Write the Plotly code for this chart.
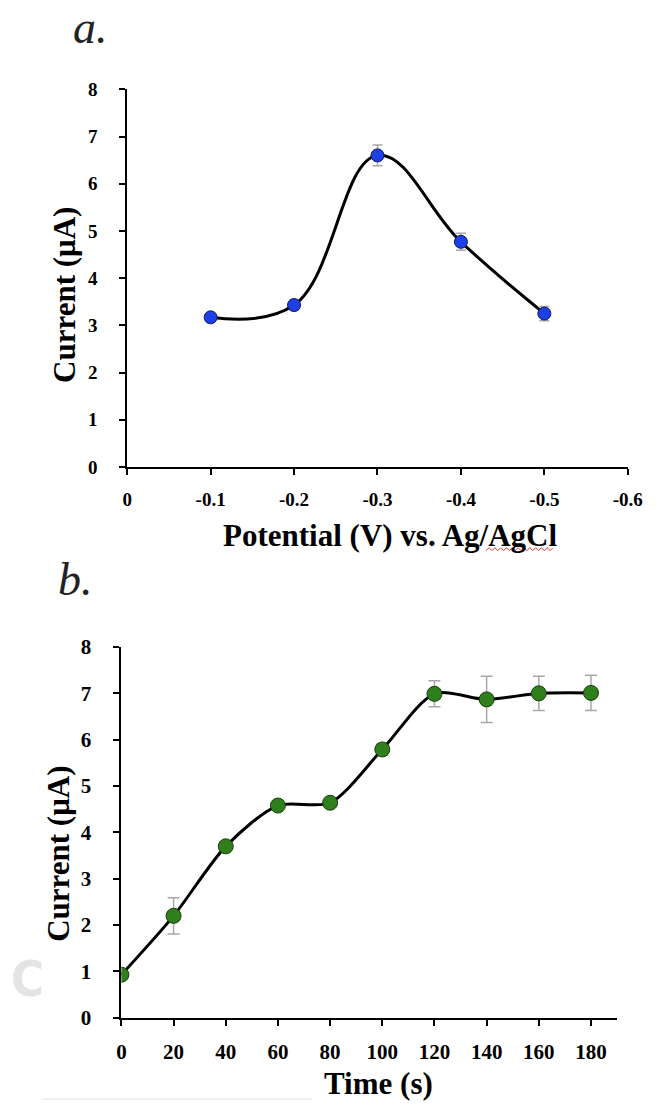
import plotly.graph_objects as go

W, H = 667, 1113

# ---------------- Panel a data ----------------
potential_v = [-0.1, -0.2, -0.3, -0.4, -0.5]
current_a = [3.17, 3.43, 6.60, 4.77, 3.25]
error_a = [0.08, 0.10, 0.22, 0.18, 0.15]
xtick_vals_a = [0, -0.1, -0.2, -0.3, -0.4, -0.5, -0.6]
xtick_text_a = ["0", "-0.1", "-0.2", "-0.3", "-0.4", "-0.5", "-0.6"]

# ---------------- Panel b data ----------------
time_s = [0, 20, 40, 60, 80, 100, 120, 140, 160, 180]
current_b = [0.93, 2.20, 3.70, 4.58, 4.64, 5.79, 6.99, 6.87, 7.00, 7.01]
error_b = [0.05, 0.39, 0.08, 0.06, 0.06, 0.12, 0.28, 0.50, 0.37, 0.38]
xtick_vals_b = [0, 20, 40, 60, 80, 100, 120, 140, 160, 180]

ytick_vals = [0, 1, 2, 3, 4, 5, 6, 7, 8]

SERIF = "Liberation Serif, Times New Roman, serif"


def px_x(p):
    return p / W


def px_y(p):
    return 1 - p / H


fig = go.Figure()

fig.add_trace(go.Scatter(
    x=potential_v, y=current_a, mode="lines+markers",
    line=dict(color="black", width=3, shape="spline", smoothing=1.15),
    marker=dict(size=13, color="#1d3fe6", line=dict(color="#0d1a60", width=1)),
    error_y=dict(type="data", array=error_a, color="#a8a8a8", thickness=1.5, width=5),
    xaxis="x", yaxis="y", showlegend=False,
))

fig.add_trace(go.Scatter(
    x=time_s, y=current_b, mode="lines+markers",
    line=dict(color="black", width=3, shape="spline", smoothing=0.8),
    marker=dict(size=15, color="#2f7f1c", line=dict(color="#173d0b", width=1)),
    error_y=dict(type="data", array=error_b, color="#a8a8a8", thickness=1.5, width=6),
    xaxis="x2", yaxis="y2", showlegend=False,
))

axis_common = dict(
    showgrid=False, zeroline=False, showline=True, linecolor="black", linewidth=2,
    ticks="outside", ticklen=6, tickwidth=2, tickcolor="black",
)

fig.update_layout(
    width=W, height=H,
    margin=dict(l=0, r=0, t=0, b=0),
    paper_bgcolor="white", plot_bgcolor="white",
    xaxis=dict(
        domain=[px_x(126), px_x(642)], range=[0, -0.6], anchor="y",
        tickvals=xtick_vals_a, ticktext=xtick_text_a,
        tickfont=dict(family=SERIF, size=19, color="black", weight="bold"),
        ticklabelstandoff=8, **axis_common,
    ),
    yaxis=dict(
        domain=[px_y(465), px_y(79)], range=[0, 8], anchor="x",
        tickvals=ytick_vals,
        tickfont=dict(family=SERIF, size=19, color="black", weight="bold"),
        ticklabelstandoff=18, **axis_common,
    ),
    xaxis2=dict(
        domain=[px_x(120), px_x(631)], range=[0, 190], anchor="y2",
        tickvals=xtick_vals_b,
        tickfont=dict(family=SERIF, size=21, color="black", weight="bold"),
        ticklabelstandoff=8, **axis_common,
    ),
    yaxis2=dict(
        domain=[px_y(1028), px_y(649)], range=[0, 8], anchor="x2",
        tickvals=ytick_vals,
        tickfont=dict(family=SERIF, size=21, color="black", weight="bold"),
        ticklabelstandoff=18, **axis_common,
    ),
)

annotations = [
    dict(text="a.", x=px_x(68), y=px_y(44), xanchor="left", yanchor="bottom",
         font=dict(family=SERIF, size=46, color="#222", style="italic")),
    dict(text="b.", x=px_x(53), y=px_y(608), xanchor="left", yanchor="bottom",
         font=dict(family=SERIF, size=46, color="#222", style="italic")),
    dict(text="Potential (V) vs. Ag/AgCl", x=px_x(397), y=px_y(535),
         xanchor="center", yanchor="middle",
         font=dict(family=SERIF, size=31, color="black", weight="bold")),
    dict(text="Current (μA)", x=px_x(62), y=px_y(289), textangle=-90,
         xanchor="center", yanchor="middle",
         font=dict(family=SERIF, size=31, color="black", weight="bold")),
    dict(text="Time (s)", x=px_x(385), y=px_y(1095),
         xanchor="center", yanchor="middle",
         font=dict(family=SERIF, size=31, color="black", weight="bold")),
    dict(text="Current (μA)", x=px_x(55), y=px_y(860), textangle=-90,
         xanchor="center", yanchor="middle",
         font=dict(family=SERIF, size=31, color="black", weight="bold")),
    dict(text="C", x=px_x(23), y=px_y(988), xanchor="center", yanchor="middle",
         font=dict(family="DejaVu Sans Condensed, Liberation Sans Narrow, sans-serif",
                   size=50, color="#e4e4e4", weight="bold")),
]
for a in annotations:
    a.update(xref="paper", yref="paper", showarrow=False)
fig.update_layout(annotations=annotations)

# decorative: red wavy spell-check underline under "AgCl" and faint bottom rule
zig = []
x0, x1, yb = 496, 566, 549
step = 3
xx = x0
k = 0
while xx <= x1:
    yy = yb + (1.5 if k % 2 == 0 else -1.5)
    zig.append(("M" if k == 0 else "L") + f"{px_x(xx):.5f},{px_y(yy):.5f}")
    xx += step
    k += 1
shapes = [
    dict(type="path", path=" ".join(zig), xref="paper", yref="paper",
         line=dict(color="#e03a3a", width=1)),
    dict(type="line", x0=px_x(38), x1=px_x(317), y0=px_y(1111), y1=px_y(1111),
         xref="paper", yref="paper", line=dict(color="#e2e2e2", width=1)),
]
fig.update_layout(shapes=shapes)

fig.write_html("out.html")
